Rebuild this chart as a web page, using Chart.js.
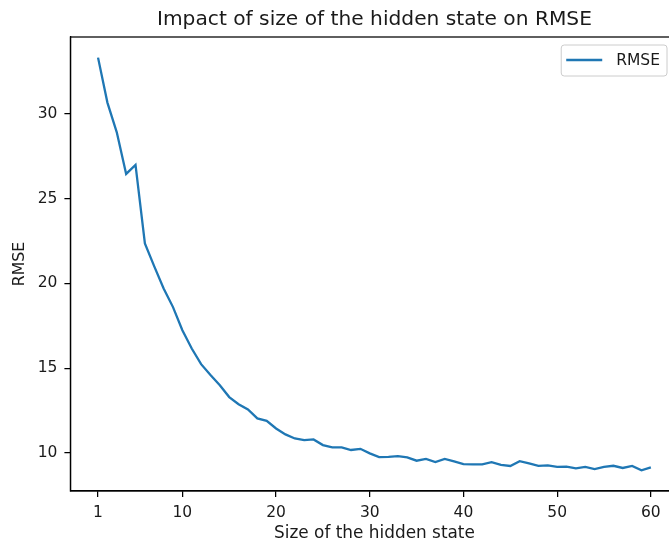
<!DOCTYPE html>
<html>
<head>
<meta charset="utf-8">
<script src="https://cdn.jsdelivr.net/npm/chart.js@4/dist/chart.umd.min.js"></script>
<style>
  html, body { margin: 0; padding: 0; background: #fff; overflow: hidden; }
  #wrap { width: 690px; height: 544px; }
</style>
</head>
<body>
<div id="wrap"><canvas id="myChart" width="690" height="544"></canvas></div>
<script>
// Datos del gráfico
const hiddenSizes = [1, 2, 3, 4, 5, 6, 7, 8, 9, 10, 11, 12, 13, 14, 15, 16, 17, 18, 19, 20,
    21, 22, 23, 24, 25, 26, 27, 28, 29, 30, 31, 32, 33, 34, 35, 36, 37, 38, 39, 40,
    41, 42, 43, 44, 45, 46, 47, 48, 49, 50, 51, 52, 53, 54, 55, 56, 57, 58, 59, 60];
const rmseValues = [33.3, 30.65, 28.9, 26.45, 26.98, 22.35, 21.0, 19.7, 18.6, 17.24,
    16.16, 15.24, 14.6, 14.0, 13.3, 12.88, 12.57, 12.04, 11.9, 11.45,
    11.1, 10.86, 10.76, 10.8, 10.47, 10.33, 10.34, 10.18, 10.25, 9.98,
    9.76, 9.78, 9.82, 9.75, 9.55, 9.65, 9.47, 9.65, 9.51, 9.35,
    9.33, 9.33, 9.46, 9.3, 9.24, 9.52, 9.39, 9.25, 9.27, 9.18,
    9.2, 9.1, 9.18, 9.06, 9.18, 9.25, 9.12, 9.24, 8.98, 9.16];
const xTicks = [1, 10, 20, 30, 40, 50, 60];
const yTicks = [10, 15, 20, 25, 30];
const seriesLabel = 'RMSE';
const chartTitle = 'Impact of size of the hidden state on RMSE';
const xTitle = 'Size of the hidden state';
const yTitle = 'RMSE';

const FONT = 'DejaVu Sans';
const TEXT = '#1a1a1a';

// márgenes al estilo matplotlib (5%)
function margins(arr) {
    const lo = Math.min(...arr), hi = Math.max(...arr);
    const m = (hi - lo) * 0.05;
    return [lo - m, hi + m];
}
const [xMin, xMax] = margins(hiddenSizes);
const [yMin, yMax] = margins(rmseValues);

// Plugin para título, marco y leyenda
const decoraciones = {
    id: 'decoraciones',
    afterDraw(chart) {
        const { ctx, chartArea: a } = chart;
        ctx.save();
        // marco completo
        ctx.strokeStyle = '#000';
        ctx.lineWidth = 1.25;
        ctx.strokeRect(a.left, a.top, a.right - a.left, a.bottom - a.top);

        // título
        ctx.fillStyle = TEXT;
        ctx.font = '20.2px "' + FONT + '"';
        ctx.textAlign = 'center';
        ctx.textBaseline = 'alphabetic';
        ctx.fillText(chartTitle, (a.left + a.right) / 2, a.top - 12);

        // leyenda
        ctx.font = '15.5px "' + FONT + '"';
        const tw = ctx.measureText(seriesLabel).width;
        const w = 5 + 36 + 14 + tw + 7;
        const h = 31;
        const x0 = a.right - 11.5 - w;
        const y0 = a.top + 8;
        ctx.beginPath();
        ctx.roundRect(x0, y0, w, h, 3);
        ctx.fillStyle = 'rgba(255,255,255,0.8)';
        ctx.fill();
        ctx.strokeStyle = '#cccccc';
        ctx.lineWidth = 1;
        ctx.stroke();
        ctx.beginPath();
        ctx.moveTo(x0 + 5, y0 + 15);
        ctx.lineTo(x0 + 41, y0 + 15);
        ctx.strokeStyle = '#1f77b4';
        ctx.lineWidth = 2.3;
        ctx.stroke();
        ctx.fillStyle = TEXT;
        ctx.textAlign = 'left';
        ctx.textBaseline = 'middle';
        ctx.fillText(seriesLabel, x0 + 55, y0 + 15.5);
        ctx.restore();
    }
};

const ctx = document.getElementById('myChart').getContext('2d');
const myChart = new Chart(ctx, {
    type: 'line',
    data: {
        datasets: [{
            label: seriesLabel,
            data: hiddenSizes.map((x, i) => ({ x: x, y: rmseValues[i] })),
            borderColor: '#1f77b4',
            backgroundColor: '#1f77b4',
            borderWidth: 2.3,
            pointRadius: 0,
            tension: 0,
            fill: false
        }]
    },
    options: {
        responsive: false,
        animation: false,
        layout: { padding: { left: 0, right: 11.5, top: 37, bottom: 0 } },
        plugins: {
            legend: { display: false },
            title: { display: false },
            tooltip: { enabled: false }
        },
        scales: {
            x: {
                type: 'linear',
                min: xMin,
                max: xMax,
                afterBuildTicks: s => { s.ticks = xTicks.map(v => ({ value: v })); },
                afterFit: s => { s.height = 53; },
                grid: { drawOnChartArea: false, drawTicks: true, tickLength: 6, color: '#000', lineWidth: 1.25 },
                border: { display: true, color: '#000', width: 1.25 },
                ticks: { color: TEXT, font: { family: FONT, size: 15.5 }, padding: 7, maxRotation: 0, autoSkip: false },
                title: { display: true, text: xTitle, color: TEXT, font: { family: FONT, size: 16.9 }, padding: { top: 0, bottom: 0 } }
            },
            y: {
                type: 'linear',
                min: yMin,
                max: yMax,
                afterBuildTicks: s => { s.ticks = yTicks.map(v => ({ value: v })); },
                afterFit: s => { s.width = 70.4; },
                grid: { drawOnChartArea: false, drawTicks: true, tickLength: 6, color: '#000', lineWidth: 1.25 },
                border: { display: true, color: '#000', width: 1.25 },
                ticks: { color: TEXT, font: { family: FONT, size: 15.5 }, padding: 7, autoSkip: false },
                title: { display: true, text: yTitle, color: TEXT, font: { family: FONT, size: 15.8 }, padding: { top: 10.5, bottom: 0 } }
            }
        }
    },
    plugins: [decoraciones]
});
</script>
</body>
</html>
